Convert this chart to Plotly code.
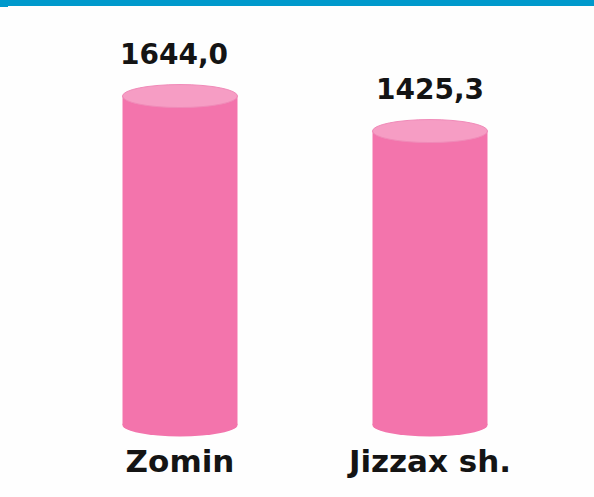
import plotly.graph_objects as go

# ─── Data ─────────────────────────────────────────────────────────────
categories = ["Zomin", "Jizzax sh."]
values = [1644.0, 1425.3]

# ─── Style ────────────────────────────────────────────────────────────
W, H = 594, 497
ML, MR, MT, MB = 55, 39, 10, 57
BODY = "#F374AC"
TOP = "#F69DC4"
RIM = "#F08AB8"
BLUE = "#0099CC"
FONT = "DejaVu Sans, Liberation Sans, Arial"
FLOOR = -412          # where the cylinders stand on the value axis
Y_RANGE = [-506, 2182]
HALF_W = 0.23         # half cylinder width, in category units
ELL_PX = 11.5         # half height of the ellipses, px


def fmt(v):
    return f"{v:.1f}".replace(".", ",")


fig = go.Figure(go.Bar(
    x=list(range(len(categories))),
    y=[v - FLOOR for v in values],
    base=FLOOR,
    width=HALF_W * 2,
    marker=dict(color=BODY, line=dict(width=0)),
    hoverinfo="skip",
))

shapes = []
annotations = []
for i, v in enumerate(values):
    # bottom ellipse (only lower half shows under the bar)
    shapes.append(dict(
        type="circle", xref="x", yref="y", layer="below",
        x0=i - HALF_W, x1=i + HALF_W,
        ysizemode="pixel", yanchor=FLOOR, y0=-ELL_PX, y1=ELL_PX,
        fillcolor=BODY, line=dict(width=0),
    ))
    # top cap
    shapes.append(dict(
        type="circle", xref="x", yref="y", layer="above",
        x0=i - HALF_W, x1=i + HALF_W,
        ysizemode="pixel", yanchor=v, y0=-ELL_PX, y1=ELL_PX,
        fillcolor=TOP, line=dict(color=RIM, width=1),
    ))
    annotations.append(dict(
        x=i, y=v, xref="x", yref="y", text=f"<b>{fmt(v)}</b>",
        showarrow=False, yanchor="middle", yshift=ELL_PX + 30,
        xshift=-6 if i == 0 else 0,
        font=dict(family=FONT, size=28, color="#141414"),
    ))

# blue band at the top of the slide
shapes.append(dict(
    type="rect", xref="paper", yref="paper",
    xsizemode="pixel", xanchor=0, x0=-ML, x1=W - ML,
    ysizemode="pixel", yanchor=1, y0=MT - 6, y1=MT,
    fillcolor=BLUE, line=dict(width=0),
))
shapes.append(dict(
    type="rect", xref="paper", yref="paper",
    xsizemode="pixel", xanchor=0, x0=-ML, x1=-ML + 8,
    ysizemode="pixel", yanchor=1, y0=MT - 7, y1=MT,
    fillcolor=BLUE, line=dict(width=0),
))

fig.update_layout(
    width=W, height=H,
    margin=dict(l=ML, r=MR, t=MT, b=MB),
    paper_bgcolor="#FEFEFE",
    plot_bgcolor="#FEFEFE",
    showlegend=False,
    shapes=shapes,
    annotations=annotations,
    xaxis=dict(
        range=[-0.5, len(categories) - 0.5],
        tickvals=list(range(len(categories))),
        ticktext=[f"<b>{c}</b>" for c in categories],
        tickfont=dict(family=FONT, size=31, color="#141414"),
        showgrid=False, zeroline=False, showline=False, ticks="",
    ),
    yaxis=dict(
        range=Y_RANGE, visible=False, showgrid=False, zeroline=False,
    ),
)

fig.write_html(
    "out.html",
    config={"displayModeBar": False},
    post_script="document.body.style.margin='0';",
)
